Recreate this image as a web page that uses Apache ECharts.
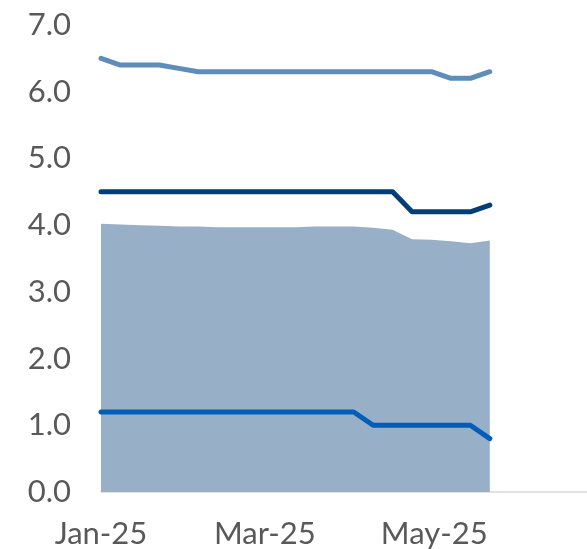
<!DOCTYPE html>
<html>
<head>
<meta charset="utf-8">
<script src="https://cdn.jsdelivr.net/npm/echarts@6/dist/echarts.min.js"></script>
<style>
html,body{margin:0;padding:0;background:#fff;}
#c{width:587px;height:549px;}
</style>
</head>
<body>
<div id="c"></div>
<script>
// Weekly observations starting 1 Jan 2025
const startDate = [2025, 0, 1];
const weeks = 21;
const areaValues = [4.02, 4.01, 4.00, 3.99, 3.98, 3.98, 3.97, 3.97, 3.97, 3.97, 3.97, 3.98, 3.98, 3.98, 3.96, 3.93, 3.79, 3.78, 3.76, 3.73, 3.77];
const upperValues = [6.5, 6.4, 6.4, 6.4, 6.35, 6.3, 6.3, 6.3, 6.3, 6.3, 6.3, 6.3, 6.3, 6.3, 6.3, 6.3, 6.3, 6.3, 6.2, 6.2, 6.3];
const middleValues = [4.5, 4.5, 4.5, 4.5, 4.5, 4.5, 4.5, 4.5, 4.5, 4.5, 4.5, 4.5, 4.5, 4.5, 4.5, 4.5, 4.2, 4.2, 4.2, 4.2, 4.3];
const lowerValues = [1.2, 1.2, 1.2, 1.2, 1.2, 1.2, 1.2, 1.2, 1.2, 1.2, 1.2, 1.2, 1.2, 1.2, 1.0, 1.0, 1.0, 1.0, 1.0, 1.0, 0.8];
const xTickMonths = [[2025, 0, 1], [2025, 2, 1], [2025, 4, 1]];
const monthNames = ['Jan','Feb','Mar','Apr','May','Jun','Jul','Aug','Sep','Oct','Nov','Dec'];

const dates = [];
for (let i = 0; i < weeks; i++) {
  dates.push(new Date(startDate[0], startDate[1], startDate[2] + 7 * i).getTime());
}
const pair = arr => arr.map((v, i) => [dates[i], v]);
const xMin = new Date(2025, 0, 1).getTime();
const xMax = new Date(2025, 5, 25).getTime();
const tickVals = xTickMonths.map(d => new Date(d[0], d[1], d[2]).getTime());

const chart = echarts.init(document.getElementById('c'), null, {renderer: 'canvas'});
chart.setOption({
  animation: false,
  backgroundColor: '#ffffff',
  grid: {left: 101, right: 0, top: 25, bottom: 57, containLabel: false, outerBoundsMode: 'none'},
  xAxis: {
    type: 'value',
    min: xMin,
    max: xMax,
    axisLine: {show: true, lineStyle: {color: '#D9D9D9', width: 1.5}},
    axisTick: {show: false},
    splitLine: {show: false},
    axisLabel: {
      customValues: tickVals,
      margin: 26,
      color: '#595959',
      fontFamily: 'Lato',
      fontSize: 31,
      formatter: function (v) {
        const d = new Date(v);
        return monthNames[d.getMonth()] + '-' + String(d.getFullYear()).slice(2);
      }
    }
  },
  yAxis: {
    type: 'value',
    min: 0,
    max: 7,
    interval: 1,
    axisLine: {show: false},
    axisTick: {show: false},
    splitLine: {show: false},
    axisLabel: {
      margin: 30,
      color: '#595959',
      fontFamily: 'Lato',
      fontSize: 31,
      formatter: v => v.toFixed(1)
    }
  },
  series: [
    {
      type: 'line', data: pair(areaValues), symbol: 'none',
      lineStyle: {width: 0}, areaStyle: {color: '#97B0C8', opacity: 1}, z: 1
    },
    {
      type: 'line', data: pair(upperValues), symbol: 'none',
      lineStyle: {color: '#5E8DB9', width: 5, cap: 'round', join: 'round'}, z: 3
    },
    {
      type: 'line', data: pair(middleValues), symbol: 'none',
      lineStyle: {color: '#003E78', width: 5, cap: 'round', join: 'round'}, z: 3
    },
    {
      type: 'line', data: pair(lowerValues), symbol: 'none',
      lineStyle: {color: '#005EB8', width: 5, cap: 'round', join: 'round'}, z: 3
    }
  ]
});
</script>
</body>
</html>
